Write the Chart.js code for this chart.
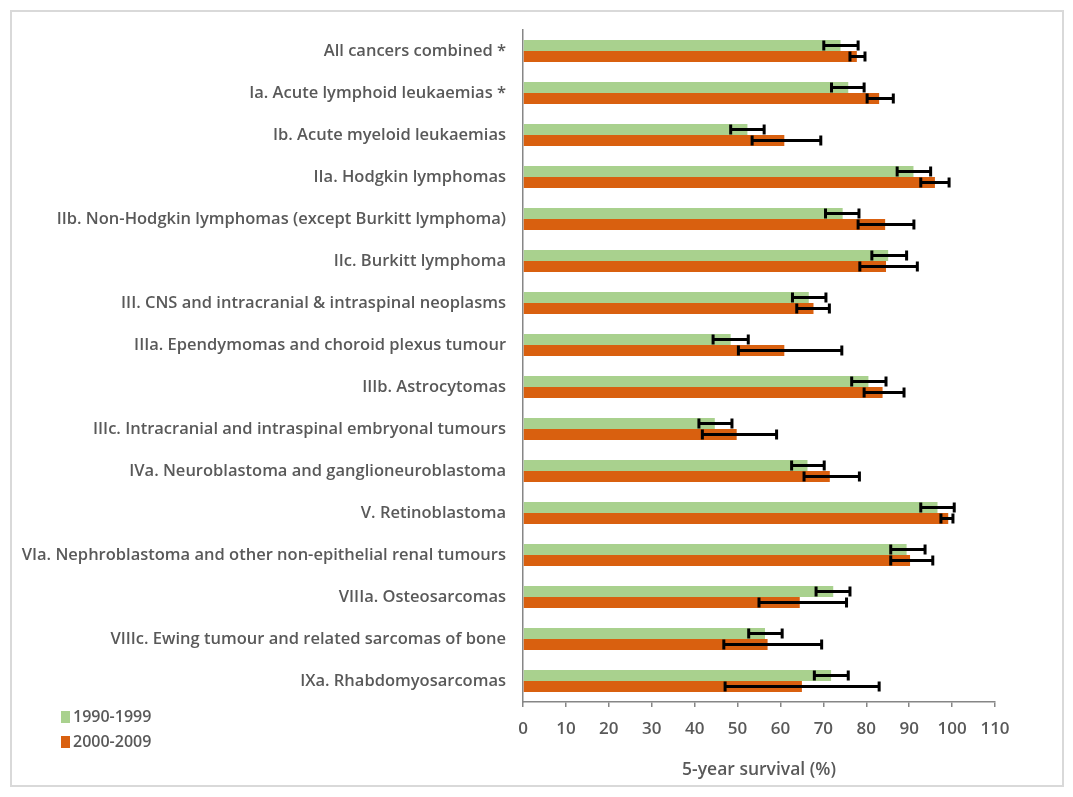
<!DOCTYPE html>
<html>
<head>
<meta charset="utf-8">
<script src="https://cdn.jsdelivr.net/npm/chart.js@4.4.1/dist/chart.umd.min.js"></script>
<style>
  html, body { margin: 0; padding: 0; background: #fff; }
  #frame {
    position: absolute; left: 10px; top: 10px;
    width: 1054px; height: 777px;
    box-sizing: border-box;
    border: 2px solid #d9d9d9;
  }
  #chart { display: block; }
  #legend {
    position: absolute; left: 49px; top: 692px;
    font-family: "Open Sans", sans-serif; font-size: 16px; font-weight: 600; color: #595959;
  }
  #legend div { height: 25px; line-height: 25px; }
  #legend span {
    display: inline-block; width: 9px; height: 12px;
    margin-right: 3px; vertical-align: -1px;
  }
</style>
</head>
<body>
<div id="frame">
  <canvas id="chart" width="1050" height="773"></canvas>
  <div id="legend"></div>
</div>
<script>
var categories = [
  'All cancers combined *',
  'Ia. Acute lymphoid leukaemias *',
  'Ib. Acute myeloid leukaemias',
  'IIa. Hodgkin lymphomas',
  'IIb. Non-Hodgkin lymphomas (except Burkitt lymphoma)',
  'IIc. Burkitt lymphoma',
  'III. CNS and intracranial & intraspinal neoplasms',
  'IIIa. Ependymomas and choroid plexus tumour',
  'IIIb. Astrocytomas',
  'IIIc. Intracranial and intraspinal embryonal tumours',
  'IVa. Neuroblastoma and ganglioneuroblastoma',
  'V. Retinoblastoma',
  'VIa. Nephroblastoma and other non-epithelial renal tumours',
  'VIIIa. Osteosarcomas',
  'VIIIc. Ewing tumour and related sarcomas of bone',
  'IXa. Rhabdomyosarcomas'
];

var seriesNames = ['1990-1999', '2000-2009'];
var seriesColors = ['#a9d18e', '#d9600f'];

var survival1990s = [74.0, 75.8, 52.3, 91.0, 74.5, 85.1, 66.6, 48.4, 80.5, 44.7, 66.3, 96.6, 89.4, 72.3, 56.4, 71.8];
var lower1990s    = [70.1, 71.9, 48.4, 87.2, 70.5, 81.3, 62.8, 44.3, 76.6, 41.0, 62.6, 92.7, 85.7, 68.3, 52.6, 67.9];
var upper1990s    = [78.1, 79.5, 56.2, 95.0, 78.3, 89.4, 70.6, 52.5, 84.6, 48.7, 70.2, 100.5, 93.7, 76.2, 60.4, 75.8];

var survival2000s = [77.8, 83.0, 60.9, 96.0, 84.4, 84.6, 67.7, 60.9, 83.8, 49.8, 71.5, 99.1, 90.2, 64.5, 57.0, 65.0];
var lower2000s    = [76.2, 80.2, 53.4, 92.7, 78.1, 78.5, 63.8, 50.2, 79.5, 41.8, 65.5, 97.4, 85.7, 55.0, 46.8, 47.1];
var upper2000s    = [79.7, 86.3, 69.4, 99.3, 91.1, 91.9, 71.4, 74.3, 88.8, 59.1, 78.4, 100.2, 95.5, 75.4, 69.6, 83.0];

var xMin = 0, xMax = 110, xStep = 10;
var TEXT = '#595959';
var AXIS = '#868686';

// draws the confidence intervals on top of the bars, through the x scale
var errorBars = {
  id: 'errorBars',
  afterDatasetsDraw: function(chart) {
    var ctx = chart.ctx;
    var xs = chart.scales.x;
    ctx.save();
    ctx.strokeStyle = '#000';
    ctx.lineWidth = 3;
    chart.data.datasets.forEach(function(ds, di) {
      var meta = chart.getDatasetMeta(di);
      meta.data.forEach(function(bar, i) {
        var x1 = xs.getPixelForValue(ds.lower[i]);
        var x2 = xs.getPixelForValue(ds.upper[i]);
        var y = bar.y, h = 5;
        ctx.beginPath();
        ctx.moveTo(x1, y); ctx.lineTo(x2, y);
        ctx.moveTo(x1, y - h); ctx.lineTo(x1, y + h);
        ctx.moveTo(x2, y - h); ctx.lineTo(x2, y + h);
        ctx.stroke();
      });
    });
    ctx.restore();
  }
};

var datasets = [
  { label: seriesNames[0], data: survival1990s, lower: lower1990s, upper: upper1990s, backgroundColor: seriesColors[0] },
  { label: seriesNames[1], data: survival2000s, lower: lower2000s, upper: upper2000s, backgroundColor: seriesColors[1] }
].map(function(d) {
  d.categoryPercentage = 0.52;
  d.barPercentage = 1.0;
  d.borderWidth = 0;
  return d;
});

new Chart(document.getElementById('chart'), {
  type: 'bar',
  data: { labels: categories, datasets: datasets },
  plugins: [errorBars],
  options: {
    indexAxis: 'y',
    responsive: false,
    animation: false,
    layout: { padding: { top: 18, right: 67, bottom: 0, left: 0 } },
    plugins: {
      legend: { display: false },
      tooltip: { enabled: false }
    },
    scales: {
      x: {
        min: xMin, max: xMax,
        afterFit: function(s) { s.height = 83; },
        grid: { drawOnChartArea: false, drawTicks: true, tickLength: 5, color: AXIS, lineWidth: 1.5 },
        border: { display: true, color: AXIS, width: 1.5 },
        ticks: {
          stepSize: xStep, color: TEXT, padding: 12,
          font: { family: 'Open Sans', size: 17, weight: '600' }
        },
        title: {
          display: true, text: '5-year survival (%)', color: TEXT,
          font: { family: 'Open Sans', size: 17.5, weight: '600' }
        }
      },
      y: {
        afterFit: function(s) {
          s.width = 511;
          // tick padding would otherwise push the plot area down
          s.paddingTop = 8;
          s.paddingBottom = 8;
        },
        grid: { display: false, drawTicks: false },
        border: { display: true, color: AXIS, width: 1.5 },
        ticks: {
          color: TEXT, padding: 17, autoSkip: false,
          font: { family: 'Open Sans', size: 16.5, weight: '600' }
        }
      }
    }
  }
});

var legend = document.getElementById('legend');
seriesNames.forEach(function(name, i) {
  var row = document.createElement('div');
  var sw = document.createElement('span');
  sw.style.background = seriesColors[i];
  row.appendChild(sw);
  row.appendChild(document.createTextNode(name));
  legend.appendChild(row);
});
</script>
</body>
</html>
